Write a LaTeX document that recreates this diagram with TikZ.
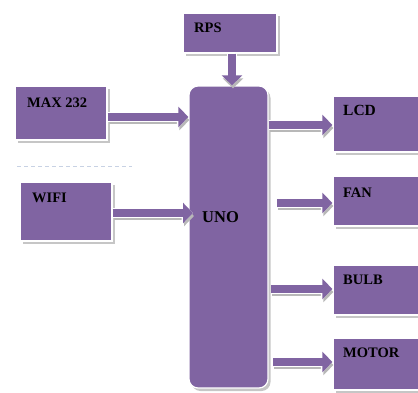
\documentclass[tikz,border=0pt]{standalone}
\usepackage{fontspec}
\setmainfont{Liberation Serif}
\usetikzlibrary{arrows.meta,shadows}
\definecolor{boxpurple}{HTML}{8064A2}
\definecolor{shadowgrey}{HTML}{B8B8B8}
\definecolor{dashgrey}{HTML}{C8D2E4}
\tikzset{
  blk/.style={rectangle, fill=boxpurple, draw=white, line width=1.2pt, inner sep=0pt,
    drop shadow={shadow xshift=2.5pt, shadow yshift=-3pt, fill=shadowgrey, opacity=0.8}},
  lbl/.style={anchor=base west, inner sep=0pt, font=\bfseries\fontsize{14.5}{16}\selectfont, text=black},
  arrshadow/.style={line width=8pt, draw=shadowgrey, -{Triangle[width=20pt,length=10pt]}},
  arrwhite/.style={line width=10pt, draw=white, -{Triangle[width=23pt,length=11.5pt]}},
  arrbody/.style={line width=8pt, draw=boxpurple, -{Triangle[width=20pt,length=10pt]}}
}
\newcommand{\blockarrow}[2]{%
  \draw[arrshadow, transform canvas={xshift=1pt,yshift=-3pt}] #1 -- #2;
  \draw[arrwhite] #1 -- #2;
  \draw[arrbody] #1 -- #2;
}
\begin{document}
\begin{tikzpicture}[x=1pt,y=-1pt]
\useasboundingbox (0,0) rectangle (418,392);
\clip (0,0) rectangle (418,392);
% boxes
\node[blk, minimum width=94pt, minimum height=40pt] (rps) at (230,33) {};
\node[blk, minimum width=92pt, minimum height=54pt] (max) at (61,113) {};
\node[blk, minimum width=92pt, minimum height=59pt] (wifi) at (66,211.5) {};
\node[blk, rounded corners=9pt, minimum width=79pt, minimum height=302pt] (uno) at (228.5,237) {};
\node[blk, minimum width=92pt, minimum height=56pt] (lcd) at (379,124) {};
\node[blk, minimum width=92pt, minimum height=50pt] (fan) at (379,201) {};
\node[blk, minimum width=92pt, minimum height=50pt] (bulb) at (379,290) {};
\node[blk, minimum width=92pt, minimum height=52pt] (motor) at (379,364) {};
% dashed separator
\coordinate (d1) at (17,166);
\coordinate (d2) at (132,166);
\draw[dashgrey, dashed, line width=0.6pt, dash pattern=on 4pt off 3pt] (d1) -- (d2);
% texts
\node[lbl] (trps) at (194,32) {RPS};
\node[lbl] (tmax) at (27,107) {MAX 232};
\node[lbl] (twifi) at (32,202) {WIFI};
\node[lbl, font=\bfseries\fontsize{16.5}{18}\selectfont] (tuno) at (202,222) {UNO};
\node[lbl, font=\bfseries\fontsize{15.5}{17}\selectfont] (tlcd) at (343,115) {LCD};
\node[lbl] (tfan) at (343,197) {FAN};
\node[lbl] (tbulb) at (343,284) {BULB};
\node[lbl] (tmotor) at (343,357) {MOTOR};
% arrows
\blockarrow{(rps.south -| 232,0)}{(uno.north -| 232,0)}
\blockarrow{(max.east |- 0,117)}{(uno.west |- 0,117)}
\blockarrow{(wifi.east |- 0,213)}{(193,213)}
\blockarrow{(uno.east |- 0,125)}{(lcd.west |- 0,125)}
\blockarrow{(277,203)}{(fan.west |- 0,203)}
\blockarrow{(271,289)}{(bulb.west |- 0,289)}
\blockarrow{(273,362)}{(motor.west |- 0,362)}
\end{tikzpicture}
\end{document}
